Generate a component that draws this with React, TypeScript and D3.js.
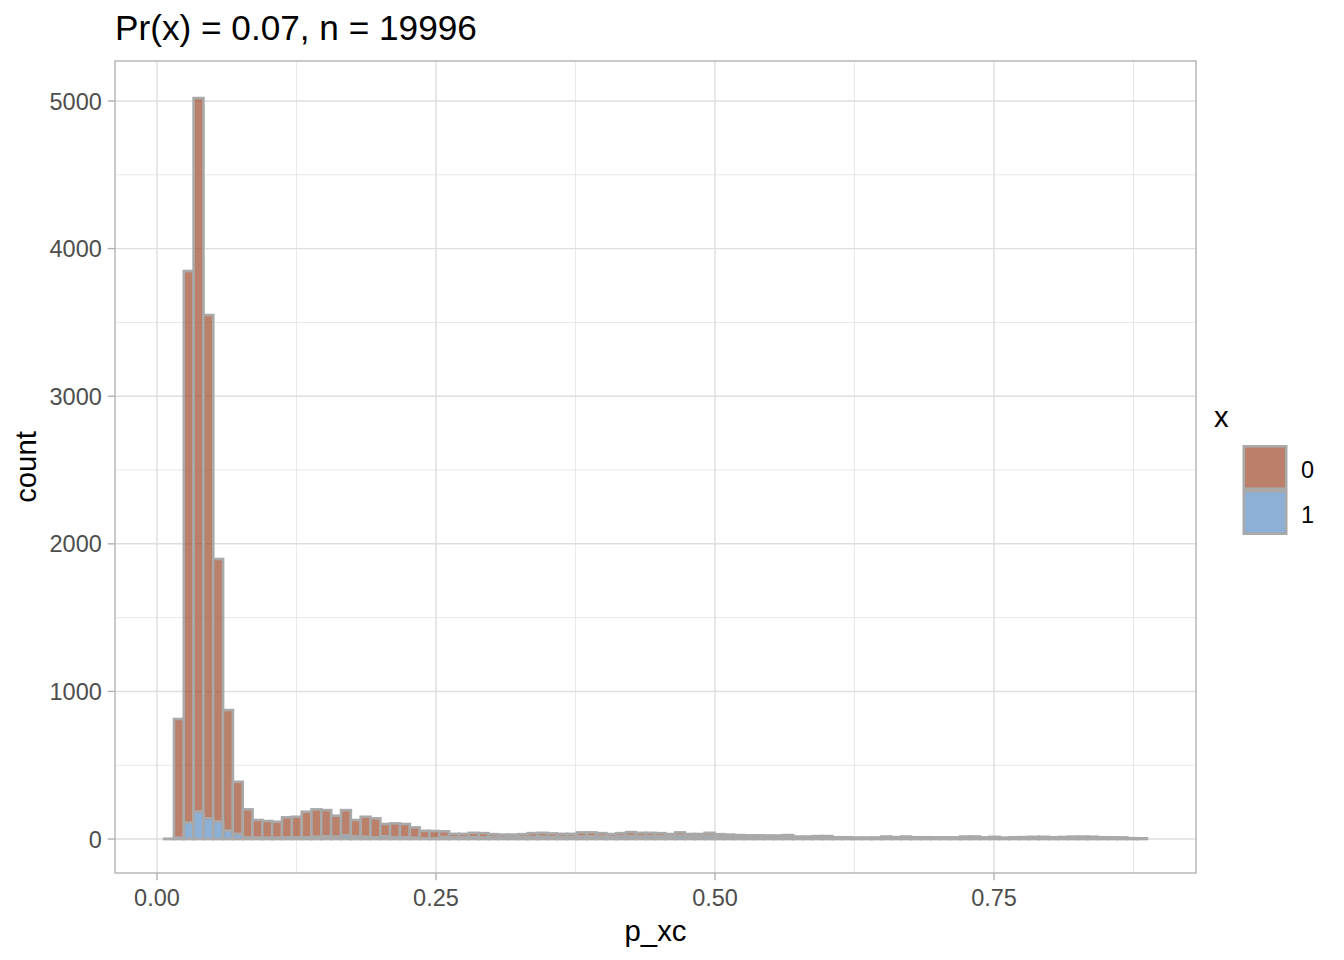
import React from "react";
import * as d3 from "d3";

// Histogram bins (100 bins) of p_xc
const BIN_START = 0.0064;
const BIN_WIDTH = 0.0088057;

// counts for x = 0 (stacked on top)
const count0 = [
  2, 805, 3738, 4835, 3410, 1780, 818, 354, 191, 121,
  114, 109, 137, 141, 173, 186, 178, 143, 171, 111,
  136, 128, 84, 94, 92, 71, 51, 49, 39, 26,
  25, 30, 28, 23, 21, 20, 22, 27, 27, 25,
  22, 22, 28, 27, 24, 20, 23, 27, 24, 23,
  22, 18, 24, 18, 17, 21, 16, 15, 13, 12,
  11, 11, 11, 12, 7, 7, 8, 8, 5, 5,
  4, 4, 3, 6, 4, 6, 4, 4, 3, 3,
  3, 5, 4, 3, 4, 2, 3, 3, 3, 3,
  2, 3, 3, 3, 2, 2, 2, 1, 1, 1,
];

// counts for x = 1 (stacked at the bottom)
const count1 = [
  0, 8, 110, 185, 140, 117, 56, 34, 10, 8,
  8, 8, 10, 10, 12, 15, 18, 15, 25, 18,
  15, 12, 18, 12, 10, 8, 5, 5, 13, 9,
  10, 12, 12, 10, 9, 10, 11, 13, 15, 13,
  13, 13, 17, 18, 16, 14, 17, 20, 18, 19,
  18, 16, 21, 16, 17, 21, 17, 15, 14, 13,
  14, 13, 13, 15, 10, 10, 12, 12, 7, 7,
  6, 6, 7, 11, 9, 11, 8, 8, 8, 8,
  8, 12, 13, 8, 11, 7, 9, 10, 12, 12,
  10, 11, 13, 13, 13, 10, 9, 9, 5, 4,
];

const xTicks = [0, 0.25, 0.5, 0.75];
const xMinor = [0.125, 0.375, 0.625, 0.875];
const yTicks = [0, 1000, 2000, 3000, 4000, 5000];
const yMinor = [500, 1500, 2500, 3500, 4500];
const groups = ["0", "1"];

const TITLE = "Pr(x) = 0.07, n = 19996";

const COLORS: Record<string, string> = { "0": "#9e4a2a", "1": "#5b8ec4" };
const FILL_OPACITY = 0.7;
const STROKE = "#a9a9a9";
const FONT = "'Liberation Sans', Arial, Helvetica, sans-serif";

export default function App() {
  const W = 1344;
  const H = 960;
  const panel = { left: 115, right: 1196, top: 61, bottom: 873 };

  const x = d3.scaleLinear().domain([-0.03763, 0.931]).range([panel.left, panel.right]);
  const y = d3.scaleLinear().domain([-230, 5271]).range([panel.bottom, panel.top]);

  const bins = count0.map((c0, i) => ({
    x0: BIN_START + i * BIN_WIDTH,
    x1: BIN_START + (i + 1) * BIN_WIDTH,
    c0,
    c1: count1[i],
  }));

  const fmtX = d3.format(".2f");
  const tickLen = 7.3;
  const gridW = 1.42;
  const strokeW = 2.6;

  const keyX = 1242.5;
  const keyY = 445;
  const keyS = 45;

  return (
    <svg
      width={W}
      height={H}
      style={{ position: "absolute", left: 0, top: 0, background: "#fff" }}
      fontFamily={FONT}
    >
      <rect x={0} y={0} width={W} height={H} fill="#fff" />
      {/* minor grid */}
      {xMinor.map((v) => (
        <line key={"xm" + v} x1={x(v)} x2={x(v)} y1={panel.top} y2={panel.bottom} stroke="#dedede" strokeWidth={0.71} />
      ))}
      {yMinor.map((v) => (
        <line key={"ym" + v} x1={panel.left} x2={panel.right} y1={y(v)} y2={y(v)} stroke="#dedede" strokeWidth={0.71} />
      ))}
      {/* major grid */}
      {xTicks.map((v) => (
        <line key={"xg" + v} x1={x(v)} x2={x(v)} y1={panel.top} y2={panel.bottom} stroke="#dedede" strokeWidth={gridW} />
      ))}
      {yTicks.map((v) => (
        <line key={"yg" + v} x1={panel.left} x2={panel.right} y1={y(v)} y2={y(v)} stroke="#dedede" strokeWidth={gridW} />
      ))}

      {/* bars: x=0 on top of x=1 */}
      {bins.map((b, i) => (
        <rect
          key={"b0" + i}
          x={x(b.x0)}
          width={x(b.x1) - x(b.x0)}
          y={y(b.c1 + b.c0)}
          height={y(b.c1) - y(b.c1 + b.c0)}
          fill={COLORS["0"]}
          fillOpacity={FILL_OPACITY}
          stroke={STROKE}
          strokeWidth={strokeW}
        />
      ))}
      {bins.map((b, i) => (
        <rect
          key={"b1" + i}
          x={x(b.x0)}
          width={x(b.x1) - x(b.x0)}
          y={y(b.c1)}
          height={y(0) - y(b.c1)}
          fill={COLORS["1"]}
          fillOpacity={FILL_OPACITY}
          stroke={STROKE}
          strokeWidth={strokeW}
        />
      ))}

      {/* panel border */}
      <rect
        x={panel.left}
        y={panel.top}
        width={panel.right - panel.left}
        height={panel.bottom - panel.top}
        fill="none"
        stroke="#b3b3b3"
        strokeWidth={1.4}
      />

      {/* axes ticks and labels */}
      {xTicks.map((v) => (
        <g key={"xt" + v}>
          <line x1={x(v)} x2={x(v)} y1={panel.bottom} y2={panel.bottom + tickLen} stroke="#b3b3b3" strokeWidth={gridW} />
          <text x={x(v)} y={906} textAnchor="middle" fontSize={23.5} fill="#4d4d4d">
            {fmtX(v)}
          </text>
        </g>
      ))}
      {yTicks.map((v) => (
        <g key={"yt" + v}>
          <line x1={panel.left - tickLen} x2={panel.left} y1={y(v)} y2={y(v)} stroke="#b3b3b3" strokeWidth={gridW} />
          <text x={panel.left - tickLen - 5.9} y={y(v) + 8.6} textAnchor="end" fontSize={23.5} fill="#4d4d4d">
            {v}
          </text>
        </g>
      ))}

      {/* axis titles */}
      <text x={(panel.left + panel.right) / 2} y={941} textAnchor="middle" fontSize={29.3} fill="#000">
        p_xc
      </text>
      <text
        transform={`translate(36, ${(panel.top + panel.bottom) / 2}) rotate(-90)`}
        textAnchor="middle"
        fontSize={29.3}
        fill="#000"
      >
        count
      </text>

      {/* title */}
      <text x={panel.left} y={40} fontSize={35.2} fill="#000">
        {TITLE}
      </text>

      {/* legend */}
      <text x={1214} y={427} fontSize={29.3} fill="#000">
        x
      </text>
      {groups.map((g, i) => (
        <g key={"lg" + g}>
          <rect x={keyX} y={keyY + i * keyS} width={keyS} height={keyS} fill="#fff" />
          <rect
            x={keyX + 1.3}
            y={keyY + i * keyS + 1.3}
            width={keyS - 2.6}
            height={keyS - 2.6}
            fill={COLORS[g]}
            fillOpacity={FILL_OPACITY}
            stroke={STROKE}
            strokeWidth={strokeW}
          />
          <text x={1301} y={keyY + i * keyS + keyS / 2 + 10} fontSize={23.5} fill="#000">
            {g}
          </text>
        </g>
      ))}
    </svg>
  );
}
